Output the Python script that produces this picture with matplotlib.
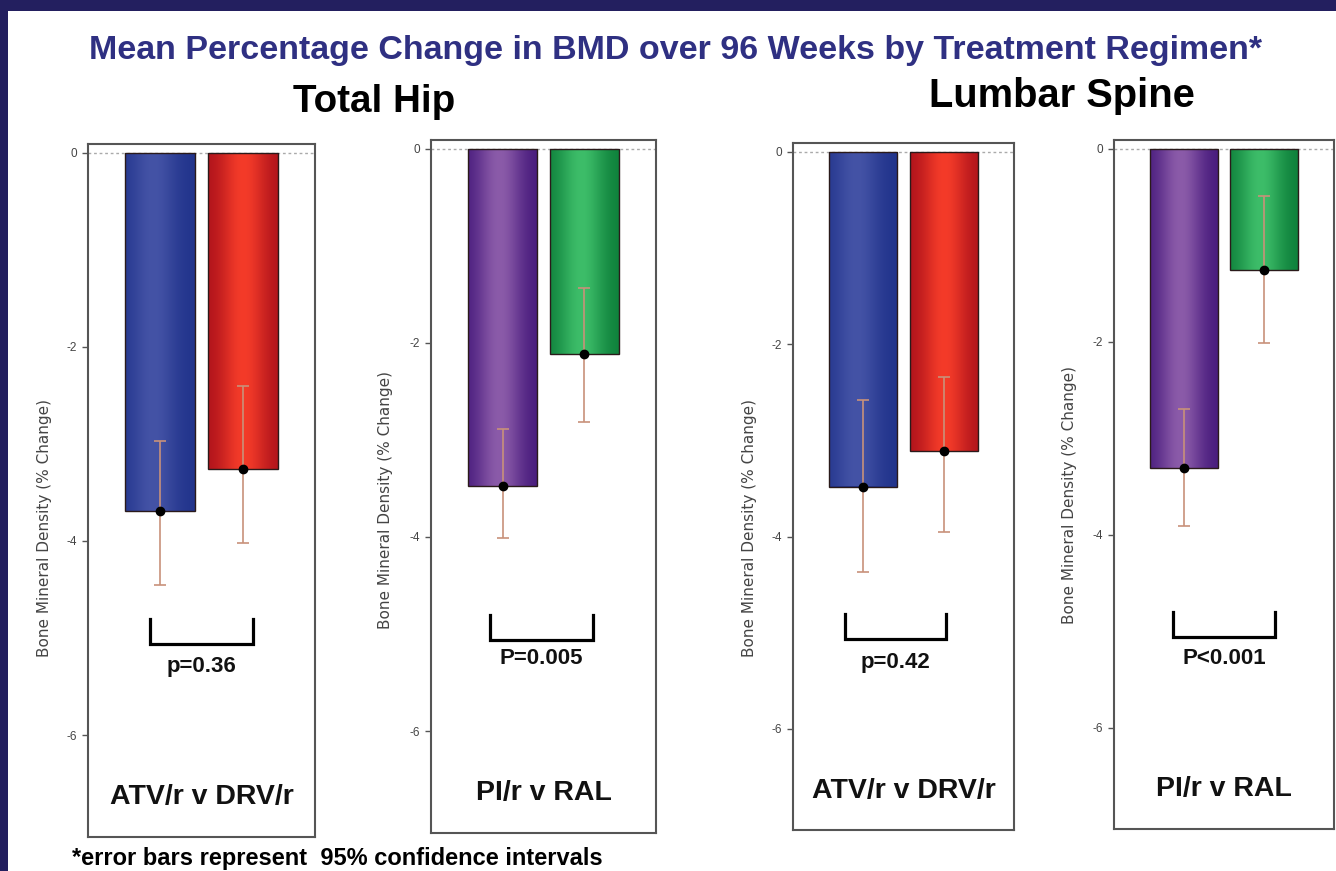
import numpy as np
import matplotlib
matplotlib.use("Agg")
import matplotlib.pyplot as plt
from matplotlib.colors import LinearSegmentedColormap
from matplotlib.patches import Rectangle

plt.rcParams["font.family"] = ["Liberation Sans", "DejaVu Sans"]
plt.rcParams["axes.unicode_minus"] = False

# ---- data: mean % change in BMD with 95% CI, by site and comparison ----
hip_atv_drv_mean = [-3.69, -3.26]
hip_atv_drv_lo = [-4.45, -4.02]
hip_atv_drv_hi = [-2.97, -2.40]

hip_pi_ral_mean = [-3.47, -2.12]
hip_pi_ral_lo = [-4.01, -2.82]
hip_pi_ral_hi = [-2.89, -1.43]

spine_atv_drv_mean = [-3.48, -3.11]
spine_atv_drv_lo = [-4.37, -3.95]
spine_atv_drv_hi = [-2.58, -2.34]

spine_pi_ral_mean = [-3.31, -1.26]
spine_pi_ral_lo = [-3.91, -2.01]
spine_pi_ral_hi = [-2.70, -0.49]

comparisons = ["ATV/r v DRV/r", "PI/r v RAL", "ATV/r v DRV/r", "PI/r v RAL"]
p_values = ["p=0.36", "P=0.005", "p=0.42", "P<0.001"]
yticks = [0, -2, -4, -6]
ytick_labels = ["0", "-2", "-4", "-6"]

# ---- styling ----
W, H = 1336, 871
NAVY = "#231f5f"
TITLE_BLUE = "#2f3082"
ERR_COLOR = "#c8917a"
# (dark edge, light centre, highlight position) for the shaded bar fills
SHADES = {
    "blue": ("#22348c", "#4453a6", 0.40),
    "red": ("#b3151c", "#f43b29", 0.50),
    "purple": ("#4a1d7e", "#8b5ba9", 0.45),
    "green": ("#0f823c", "#3dbd69", 0.45),
}

panels = [
    dict(mean=hip_atv_drv_mean, lo=hip_atv_drv_lo, hi=hip_atv_drv_hi,
         colors=["blue", "red"], rect=(88, 144, 315, 837),
         bracket=(-0.12, 1.13), ptext_y=-5.29, ylab=(-0.159, 0.446)),
    dict(mean=hip_pi_ral_mean, lo=hip_pi_ral_lo, hi=hip_pi_ral_hi,
         colors=["purple", "green"], rect=(431, 140, 656, 833),
         bracket=(-0.16, 1.10), ptext_y=-5.25, ylab=(-0.169, 0.48)),
    dict(mean=spine_atv_drv_mean, lo=spine_atv_drv_lo, hi=spine_atv_drv_hi,
         colors=["blue", "red"], rect=(793, 143, 1014, 830),
         bracket=(-0.23, 1.03), ptext_y=-5.31, ylab=(-0.163, 0.44)),
    dict(mean=spine_pi_ral_mean, lo=spine_pi_ral_lo, hi=spine_pi_ral_hi,
         colors=["purple", "green"], rect=(1114, 140, 1334, 829),
         bracket=(-0.14, 1.14), ptext_y=-5.28, ylab=(-0.168, 0.485)),
]

fig = plt.figure(figsize=(W / 100, H / 100), dpi=100)
fig.patch.set_facecolor("white")

# navy frame along the top and left edges
fig.patches.append(Rectangle((0, 1 - 11 / H), 1, 11 / H, transform=fig.transFigure,
                             facecolor=NAVY, edgecolor="none", zorder=0))
fig.patches.append(Rectangle((0, 0), 8 / W, 1, transform=fig.transFigure,
                             facecolor=NAVY, edgecolor="none", zorder=0))

fig.text(675 / W, 1 - 50 / H,
         "Mean Percentage Change in BMD over 96 Weeks by Treatment Regimen*",
         ha="center", va="center", fontsize=24.5, fontweight="bold", color=TITLE_BLUE)
fig.text(374 / W, 1 - 102 / H, "Total Hip", ha="center", va="center",
         fontsize=27.8, fontweight="bold", color="black")
fig.text(1062 / W, 1 - 96 / H, "Lumbar Spine", ha="center", va="center",
         fontsize=28.7, fontweight="bold", color="black")
fig.text(72 / W, 1 - 858 / H, "*error bars represent  95% confidence intervals",
         ha="left", va="center", fontsize=17, fontweight="bold", color="black")


def shade_bar(ax, bar, key):
    dark, light, peak = SHADES[key]
    cmap = LinearSegmentedColormap.from_list(key, [dark, light])
    u = np.linspace(0, 1, 256)
    prof = np.exp(-((u - peak) / 0.33) ** 2)
    prof = (prof - prof.min()) / (prof.max() - prof.min())
    x0, w = bar.get_x(), bar.get_width()
    y0, h = bar.get_y(), bar.get_height()
    im = ax.imshow(prof[np.newaxis, :], cmap=cmap, aspect="auto",
                   extent=(x0, x0 + w, y0 + h, y0), interpolation="bicubic",
                   zorder=2.2)
    im.set_clip_path(bar)


xpos = np.arange(2)
bar_w = 0.85
for i, p in enumerate(panels):
    x0, y0, x1, y1 = p["rect"]
    ax = fig.add_axes([x0 / W, 1 - y1 / H, (x1 - x0) / W, (y1 - y0) / H])
    ax.set_xlim(-0.877, 1.877)
    ax.set_ylim(-7.05, 0.09)

    mean = np.array(p["mean"])
    lo = np.array(p["lo"])
    hi = np.array(p["hi"])

    bars = ax.bar(xpos, mean, width=bar_w, color=[SHADES[c][0] for c in p["colors"]],
                  edgecolor="none", zorder=2)
    for b, c in zip(bars, p["colors"]):
        shade_bar(ax, b, c)
    ax.bar(xpos, mean, width=bar_w, fill=False, edgecolor="#2a1a1a",
           linewidth=1.0, zorder=2.5)

    ax.errorbar(xpos, mean, yerr=[mean - lo, hi - mean], fmt="none",
                ecolor=ERR_COLOR, elinewidth=1.2, capsize=4.5, capthick=1.2,
                zorder=3)
    ax.plot(xpos, mean, "o", color="black", markersize=6, zorder=4)

    ax.axhline(0, color="#aaaaaa", linestyle=(0, (2, 2)), linewidth=1.0, zorder=1)

    # significance bracket with p-value
    bx0, bx1 = p["bracket"]
    ax.plot([bx0, bx0, bx1, bx1], [-4.80, -5.06, -5.06, -4.80], color="black",
            linewidth=2.3, solid_joinstyle="miter", zorder=3)
    ax.text((bx0 + bx1) / 2, p["ptext_y"], p_values[i], ha="center", va="center",
            fontsize=16, fontweight="bold", color="#111111")
    ax.text(0.5, -6.64, comparisons[i], ha="center", va="center",
            fontsize=20.5, fontweight="bold", color="#111111")

    ax.set_yticks(yticks)
    ax.set_yticklabels(ytick_labels)
    ax.set_xticks([])
    ax.tick_params(axis="y", direction="out", length=4, width=1, color="#555555",
                   labelsize=8.5, labelcolor="#444444", pad=4)
    for s in ax.spines.values():
        s.set_color("#555555")
        s.set_linewidth(1.5)
    ax.set_ylabel("Bone Mineral Density (% Change)", fontsize=11,
                  family="DejaVu Sans", color="#444444")
    ax.yaxis.set_label_coords(*p["ylab"])

fig.savefig("out.png", dpi=100, facecolor="white")
